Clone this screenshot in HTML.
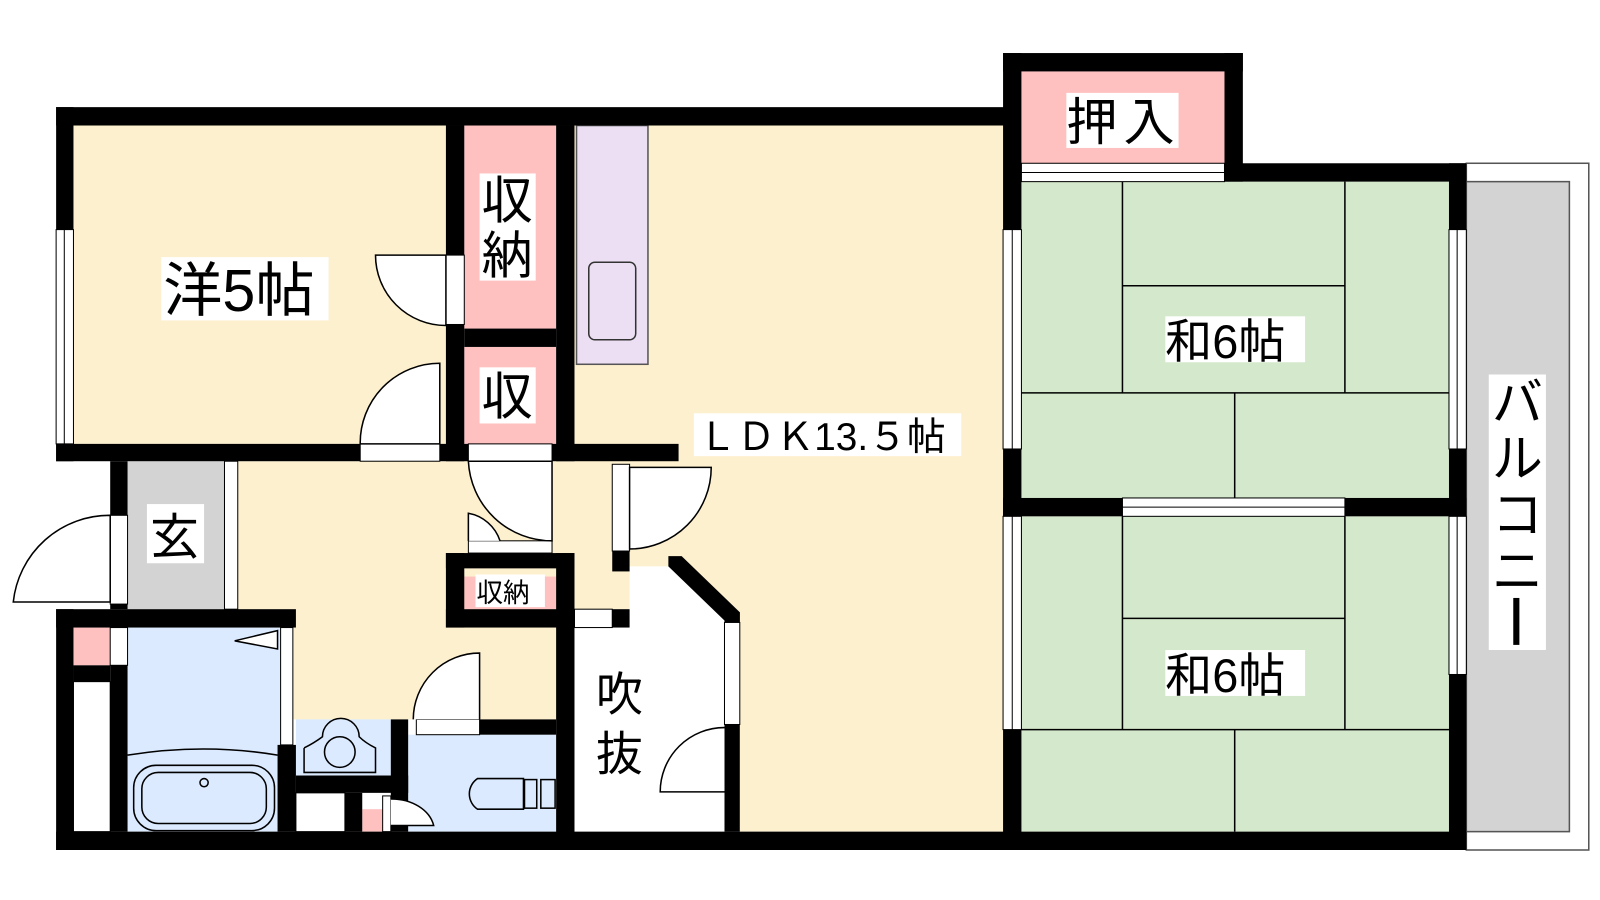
<!DOCTYPE html>
<html><head><meta charset="utf-8"><style>
html,body{margin:0;padding:0;background:#fff}
svg{display:block}
text{font-family:"Liberation Sans","Noto Sans CJK JP",sans-serif;fill:#000}
</style></head><body>
<svg width="1600" height="900" viewBox="0 0 1568 882" preserveAspectRatio="none" xmlns="http://www.w3.org/2000/svg">
<rect width="1568" height="882" fill="#fff"/>
<!-- floors -->
<rect x="72" y="123" width="365" height="312" fill="#fdf0cf"/>
<rect x="455" y="123" width="90" height="199" fill="#ffc0c0"/>
<rect x="455" y="340" width="90" height="95" fill="#ffc0c0"/>
<rect x="563" y="123" width="420" height="692" fill="#fdf0cf"/>
<rect x="230" y="452" width="333" height="253" fill="#fdf0cf"/>
<rect x="563" y="452" width="40" height="145" fill="#fdf0cf"/>
<rect x="565" y="123" width="70" height="234" fill="#ecdff4" stroke="#555" stroke-width="1.5"/>
<rect x="577" y="257" width="46" height="76" rx="6" fill="none" stroke="#333" stroke-width="1.5"/>
<!-- fukinuke -->
<polygon points="563,597 617,597 617,555 660,555 715,605 715,815 563,815" fill="#fff"/>
<!-- genkan -->
<rect x="125" y="452" width="95" height="145" fill="#d3d3d3"/>
<rect x="220" y="452" width="13" height="145" fill="#fff" stroke="#000" stroke-width="1"/>
<!-- bath -->
<rect x="125" y="615" width="150" height="200" fill="#dbeafe"/>
<rect x="290" y="705" width="95" height="55" fill="#dbeafe"/>
<rect x="400" y="720" width="145" height="95" fill="#dbeafe"/>
<rect x="72" y="615" width="36" height="37" fill="#ffc0c0"/>
<rect x="355" y="793" width="20" height="22" fill="#ffc0c0"/>
<rect x="455" y="565" width="90" height="32" fill="#ffc0c0"/>
<!-- oshiire / tatami -->
<rect x="1001" y="70" width="199" height="90" fill="#ffc0c0"/>
<rect x="1001" y="178" width="419" height="310" fill="#d4e8cc"/>
<rect x="1001" y="506" width="419" height="309" fill="#d4e8cc"/>
<g stroke="#000" stroke-width="1.5" fill="none">
<path d="M1100 178V385M1318 178V385M1100 280H1318M1001 385H1420M1210 385V488"/>
<path d="M1100 506V715M1318 506V715M1100 606H1318M1001 715H1420M1210 715V815"/>
</g>
<!-- balcony -->
<rect x="1437" y="160" width="120" height="673" fill="#fff" stroke="#555" stroke-width="1.5"/>
<rect x="1437" y="178" width="101" height="637" fill="#d3d3d3" stroke="#555" stroke-width="1.5"/>
<!-- walls -->
<g fill="#000">
<rect x="55" y="105" width="930" height="18"/>
<rect x="55" y="105" width="17" height="347"/>
<rect x="55" y="435" width="610" height="17"/>
<rect x="437" y="123" width="18" height="329"/>
<rect x="545" y="123" width="18" height="329"/>
<rect x="455" y="322" width="90" height="18"/>
<rect x="983" y="52" width="235" height="18"/>
<rect x="983" y="52" width="18" height="780"/>
<rect x="1200" y="52" width="18" height="126"/>
<rect x="1200" y="160" width="237" height="18"/>
<rect x="1420" y="160" width="17" height="673"/>
<rect x="983" y="488" width="454" height="18"/>
<rect x="55" y="815" width="1382" height="18"/>
<rect x="108" y="452" width="17" height="145"/>
<rect x="55" y="597" width="235" height="18"/>
<rect x="55" y="597" width="17" height="236"/>
<rect x="108" y="615" width="17" height="200"/>
<rect x="72" y="652" width="36" height="16"/>
<rect x="272" y="730" width="18" height="85"/>
<rect x="290" y="760" width="110" height="17"/>
<rect x="338" y="777" width="17" height="38"/>
<rect x="383" y="705" width="17" height="110"/>
<rect x="470" y="705" width="75" height="15"/>
<rect x="437" y="542" width="126" height="15"/>
<rect x="437" y="542" width="18" height="73"/>
<rect x="437" y="597" width="126" height="18"/>
<rect x="545" y="542" width="18" height="291"/>
<rect x="600" y="540" width="17" height="20"/>
<rect x="600" y="597" width="17" height="18"/>
<rect x="710" y="600" width="15" height="215"/>
<polygon points="655,545 668,545 725,600 725,610 712,610 655,555"/>
</g>
<!-- windows / openings -->
<g fill="#fff" stroke="#000" stroke-width="1">
<rect x="55" y="225" width="17" height="210"/><line x1="63" y1="225" x2="63" y2="435"/>
<rect x="983" y="225" width="18" height="215"/><line x1="992" y1="225" x2="992" y2="440"/>
<rect x="983" y="506" width="18" height="209"/><line x1="992" y1="506" x2="992" y2="715"/>
<rect x="1420" y="225" width="17" height="215"/><line x1="1428" y1="225" x2="1428" y2="440"/>
<rect x="1420" y="506" width="17" height="155"/><line x1="1428" y1="506" x2="1428" y2="661"/>
<rect x="1001" y="160" width="199" height="18"/><line x1="1001" y1="169" x2="1200" y2="169"/>
<rect x="1100" y="488" width="218" height="18"/><line x1="1100" y1="497" x2="1318" y2="497"/>
<rect x="437" y="250" width="18" height="68"/>
<rect x="353" y="435" width="78" height="17"/>
<rect x="459" y="435" width="82" height="17"/>
<rect x="459" y="530" width="82" height="12"/>
<rect x="108" y="505" width="17" height="87"/>
<rect x="600" y="455" width="17" height="85"/>
<rect x="563" y="597" width="37" height="18"/>
<rect x="710" y="610" width="15" height="100"/>
<rect x="408" y="705" width="62" height="15"/>
<rect x="275" y="615" width="12" height="115"/>
<rect x="108" y="615" width="17" height="37"/>
<rect x="290" y="777" width="48" height="38"/>
<rect x="72" y="668" width="36" height="147"/>
<rect x="375" y="780" width="8" height="35"/>
</g>
<!-- door arcs -->
<g fill="#fff" stroke="#000" stroke-width="1.5">
<path d="M437 250 L368 250 A69 69 0 0 0 437 319 Z"/>
<path d="M431 435 L431 356 A78 78 0 0 0 353 435 Z"/>
<path d="M541 452 L459 452 A82 82 0 0 0 541 530 Z"/>
<path d="M459 530 L459 503 A40 40 0 0 1 490 530"/>
<path d="M617 458 L697 458 A80 80 0 0 1 617 538 Z"/>
<path d="M108 590 L108 505 A95 95 0 0 0 13 590 Z"/>
<path d="M470 705 L470 640 A65 65 0 0 0 405 705"/>
<path d="M710 713 A63 63 0 0 0 647 776 L710 776"/>
<path d="M383 783 A42 32 0 0 1 425 809 L383 809"/>
<path d="M230 628 L272 618 L272 636 Z"/>
</g>
<!-- fixtures -->
<g fill="none" stroke="#000" stroke-width="1.5">
<path d="M125 740 Q200 728 272 740"/>
<rect x="131" y="750" width="138" height="64" rx="22"/>
<rect x="139" y="757" width="122" height="50" rx="16"/>
<circle cx="200" cy="767" r="4"/>
<path d="M298 733 L298 757 L368 757 L368 733 Q358 728 352 722 A18 18 0 0 0 316 722 Q308 728 298 733"/>
<circle cx="333" cy="737" r="15"/>
<path d="M513 763 L468 763 A18 18 0 0 0 468 793 L513 793 Z"/>
<rect x="514" y="764" width="12" height="28"/>
<rect x="530" y="764" width="14" height="28"/>
</g>
<!-- labels -->
<g>
<rect x="158" y="252" width="164" height="62" fill="#fff"/>
<text x="160" y="305" font-size="58">洋5帖</text>
<rect x="470" y="170" width="55" height="105" fill="#fff"/>
<text x="472" y="214" font-size="50">収</text>
<text x="472" y="268" font-size="50">納</text>
<rect x="470" y="360" width="55" height="55" fill="#fff"/>
<text x="472" y="406" font-size="50">収</text>
<rect x="680" y="405" width="262" height="42" fill="#fff"/>
<text x="684" y="441" font-size="38">ＬＤＫ13.５帖</text>
<rect x="1142" y="310" width="137" height="45" fill="#fff"/>
<text x="1142" y="351" font-size="46">和6帖</text>
<rect x="1142" y="637" width="137" height="45" fill="#fff"/>
<text x="1142" y="678" font-size="46">和6帖</text>
<rect x="1045" y="91" width="110" height="54" fill="#fff"/>
<text x="1045" y="137" font-size="50" letter-spacing="6">押入</text>
<rect x="144" y="494" width="56" height="58" fill="#fff"/>
<text x="147" y="543" font-size="48">玄</text>
<rect x="466" y="563" width="68" height="32" fill="#fff"/>
<text x="467" y="590" font-size="26">収納</text>
<text x="584" y="697" font-size="46">吹</text>
<text x="584" y="755" font-size="46">抜</text>
<rect x="1459" y="367" width="56" height="270" fill="#fff"/>
<text x="1462" y="412" font-size="50">バ</text>
<text x="1462" y="467" font-size="50">ル</text>
<text x="1462" y="522" font-size="50">コ</text>
<text x="1462" y="577" font-size="50">ニ</text>
<rect x="1483" y="586" width="6" height="46" fill="#000"/>
</g>
</svg>
</body></html>
